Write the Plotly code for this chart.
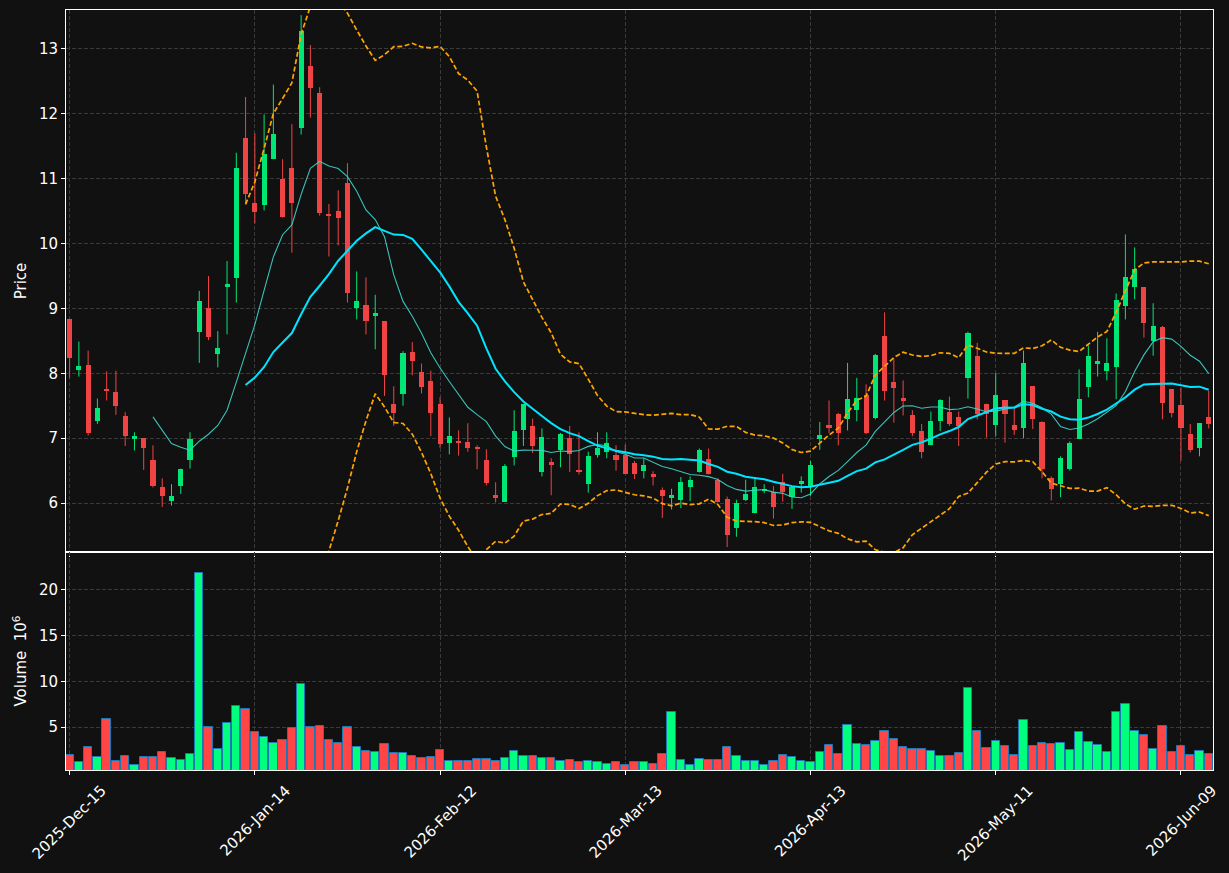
import pandas as pd
import plotly.graph_objects as go
from plotly.subplots import make_subplots

tick_labels = ["2025-Dec-15", "2026-Jan-14", "2026-Feb-12", "2026-Mar-13",
               "2026-Apr-13", "2026-May-11", "2026-Jun-09"]
tick_every = 20

open_ = [8.84, 8.05, 8.13, 7.26, 7.76, 7.71, 7.34, 6.99, 7.00, 6.66,
         6.25, 6.03, 6.27, 6.66, 8.63, 9.01, 8.29, 9.33, 9.47, 11.63,
         10.63, 10.60, 11.30, 11.00, 11.17, 11.78, 12.74, 12.32, 10.45, 10.50,
         10.93, 9.00, 9.05, 8.89, 8.80, 7.53, 7.68, 8.33, 8.02, 7.88,
         7.53, 6.92, 6.96, 6.94, 6.85, 6.66, 6.12, 6.02, 6.71, 7.13,
         7.19, 6.48, 6.61, 6.81, 7.00, 6.50, 6.29, 6.74, 6.79, 6.74,
         6.74, 6.61, 6.50, 6.43, 6.20, 6.08, 6.04, 6.24, 6.48, 6.68,
         6.36, 6.06, 5.61, 6.04, 5.84, 6.19, 6.17, 6.33, 6.09, 6.29,
         6.27, 6.99, 7.20, 7.37, 7.29, 7.44, 7.66, 7.31, 8.57, 7.87,
         7.62, 7.36, 7.11, 6.89, 7.27, 7.41, 7.33, 7.93, 8.27, 7.52,
         7.20, 7.59, 7.20, 7.15, 7.80, 7.25, 6.38, 6.29, 6.53, 6.99,
         7.79, 8.15, 8.03, 8.09, 9.03, 9.33, 9.33, 8.49, 8.71, 7.76,
         7.51, 7.06, 6.85, 7.32]
high = [8.84, 8.49, 8.35, 7.61, 8.03, 8.04, 7.40, 7.09, 7.00, 6.89,
        6.38, 6.29, 6.53, 7.09, 9.27, 9.50, 8.65, 9.73, 11.40, 12.26,
        11.70, 11.99, 12.45, 11.30, 11.84, 13.52, 13.06, 12.41, 10.61, 10.82,
        11.24, 9.57, 9.48, 9.21, 8.80, 7.80, 8.34, 8.48, 8.15, 8.04,
        7.63, 7.32, 7.12, 7.23, 6.89, 6.83, 6.32, 6.60, 7.43, 7.53,
        7.30, 7.15, 6.69, 7.08, 7.19, 7.09, 6.79, 7.09, 7.09, 6.89,
        6.90, 6.65, 6.69, 6.49, 6.24, 6.22, 6.40, 6.41, 6.84, 6.84,
        6.38, 6.10, 6.05, 6.36, 6.38, 6.29, 6.26, 6.45, 6.26, 6.41,
        6.65, 7.25, 7.58, 7.39, 8.16, 7.93, 7.83, 8.30, 8.94, 8.23,
        7.89, 7.43, 7.22, 7.41, 7.60, 7.64, 7.41, 8.64, 8.47, 7.53,
        8.00, 7.59, 7.45, 8.35, 7.80, 7.26, 6.41, 6.72, 6.95, 8.06,
        8.43, 8.64, 8.54, 9.23, 10.14, 9.94, 9.33, 9.08, 8.73, 7.76,
        7.78, 7.22, 7.23, 7.73]
low = [7.93, 7.95, 7.04, 7.22, 7.58, 7.36, 6.88, 6.81, 6.51, 6.24,
       5.94, 5.96, 6.14, 6.53, 8.16, 8.51, 8.09, 8.60, 9.09, 10.61,
       10.31, 10.51, 11.30, 10.40, 9.86, 11.68, 11.94, 10.43, 9.80, 9.97,
       9.09, 8.83, 8.60, 8.37, 7.65, 7.19, 7.50, 7.97, 7.69, 7.03,
       6.85, 6.75, 6.73, 6.79, 6.52, 6.27, 6.01, 6.02, 6.58, 6.88,
       6.77, 6.41, 6.12, 6.55, 6.48, 6.44, 6.16, 6.70, 6.69, 6.50,
       6.45, 6.37, 6.38, 6.27, 5.77, 5.90, 5.92, 6.03, 6.47, 6.44,
       6.01, 5.32, 5.48, 6.03, 5.84, 6.15, 5.76, 6.02, 5.91, 6.16,
       6.11, 6.82, 7.08, 6.89, 7.12, 7.26, 7.06, 7.29, 7.58, 7.24,
       7.35, 7.03, 6.69, 6.89, 7.11, 7.19, 6.88, 7.61, 7.29, 7.01,
       7.03, 6.93, 7.05, 7.00, 7.14, 6.38, 6.04, 6.09, 6.50, 6.99,
       7.63, 7.95, 7.89, 7.60, 8.83, 9.14, 8.55, 8.27, 7.29, 7.32,
       6.65, 6.78, 6.72, 7.15]
close = [8.23, 8.11, 7.08, 7.46, 7.73, 7.49, 7.03, 7.03, 6.85, 6.27,
         6.11, 6.11, 6.53, 6.99, 9.12, 8.56, 8.39, 9.38, 11.17, 10.77,
         10.49, 11.38, 11.69, 10.41, 10.63, 13.28, 12.39, 10.47, 10.43, 10.40,
         9.24, 9.12, 8.81, 8.93, 7.98, 7.39, 8.31, 8.19, 7.79, 7.39,
         6.91, 7.03, 6.92, 6.85, 6.84, 6.31, 6.09, 6.57, 7.11, 7.53,
         6.88, 7.02, 6.60, 7.07, 6.75, 6.48, 6.72, 6.85, 6.92, 6.66,
         6.45, 6.45, 6.59, 6.41, 6.11, 6.12, 6.32, 6.36, 6.82, 6.44,
         6.01, 5.51, 6.00, 6.14, 6.25, 6.21, 5.94, 6.17, 6.25, 6.34,
         6.59, 7.05, 7.15, 7.08, 7.60, 7.62, 7.08, 8.28, 7.73, 7.78,
         7.58, 7.08, 6.79, 7.27, 7.59, 7.22, 7.18, 8.62, 7.37, 7.38,
         7.66, 7.38, 7.12, 8.16, 7.29, 6.52, 6.21, 6.70, 6.92, 7.61,
         8.27, 8.19, 8.16, 9.13, 9.48, 9.61, 8.77, 8.73, 7.54, 7.39,
         7.15, 6.82, 7.23, 7.22]
volume_m = [1.93, 1.17, 2.81, 1.72, 5.88, 1.28, 1.83, 0.84, 1.72, 1.72,
            2.26, 1.61, 1.39, 2.04, 21.86, 5.00, 2.59, 5.44, 7.30, 6.97,
            4.45, 3.91, 3.25, 3.58, 4.89, 9.71, 5.00, 5.11, 3.58, 3.25,
            5.00, 2.81, 2.37, 2.26, 3.14, 2.15, 2.15, 1.83, 1.61, 1.72,
            2.48, 1.28, 1.28, 1.28, 1.50, 1.50, 1.28, 1.61, 2.37, 1.83,
            1.83, 1.61, 1.61, 1.28, 1.39, 1.17, 1.28, 1.17, 0.95, 1.17,
            0.84, 1.17, 1.17, 0.95, 2.04, 6.64, 1.39, 0.84, 1.50, 1.39,
            1.39, 2.81, 1.83, 1.28, 1.28, 0.84, 1.28, 1.93, 1.72, 1.28,
            1.17, 2.26, 3.03, 2.04, 5.22, 3.14, 3.03, 3.47, 4.56, 3.69,
            2.81, 2.59, 2.59, 2.37, 1.83, 1.83, 2.15, 9.27, 4.56, 2.70,
            3.47, 2.92, 1.93, 5.77, 2.92, 3.25, 3.14, 3.25, 2.48, 4.45,
            3.36, 3.03, 2.26, 6.64, 7.52, 4.56, 4.12, 2.59, 5.11, 2.26,
            2.92, 1.93, 2.37, 2.04]

BG = "#111111"
GRID = "#3a3a3a"
UP_C, DN_C = "#00e676", "#f04444"
VUP_C, VDN_C = "#00ff7f", "#ff4545"
FONT = dict(color="white", size=15, family="DejaVu Sans")

n = len(close)
xs = list(range(n))
up = [c >= o for o, c in zip(open_, close)]

s = pd.Series(close)
ma10 = s.rolling(10).mean()
ma20 = s.rolling(20).mean()
sd20 = s.rolling(20).std(ddof=0)
upper = ma20 + 2 * sd20
lower = ma20 - 2 * sd20

fig = make_subplots(rows=2, cols=1, shared_xaxes=True, vertical_spacing=0,
                    row_heights=[542, 218])

# wicks
for flag, col in [(True, UP_C), (False, DN_C)]:
    wx, wy = [], []
    for i in xs:
        if up[i] == flag:
            wx += [i, i, None]
            wy += [low[i], high[i], None]
    fig.add_trace(go.Scatter(x=wx, y=wy, mode="lines", line=dict(color=col, width=1),
                             hoverinfo="skip", showlegend=False), row=1, col=1)

# bodies
body_base = [min(o, c) for o, c in zip(open_, close)]
body_h = [max(abs(c - o), 0.03) for o, c in zip(open_, close)]
fig.add_trace(go.Bar(x=xs, y=body_h, base=body_base, width=0.55,
                     marker=dict(color=[UP_C if u else DN_C for u in up], line=dict(width=0)),
                     showlegend=False), row=1, col=1)

# moving averages and bands
fig.add_trace(go.Scatter(x=xs, y=ma10, mode="lines", line=dict(color="#3fd6cc", width=1.1),
                         opacity=0.9, showlegend=False), row=1, col=1)
fig.add_trace(go.Scatter(x=xs, y=ma20, mode="lines", line=dict(color="#00e5ff", width=2),
                         showlegend=False), row=1, col=1)
for band in (upper, lower):
    fig.add_trace(go.Scatter(x=xs, y=band, mode="lines",
                             line=dict(color="#ffa500", width=1.7, dash="5px,2.5px"),
                             showlegend=False), row=1, col=1)

# volume
fig.add_trace(go.Bar(x=xs, y=volume_m, width=0.9,
                     marker=dict(color=[VUP_C if u else VDN_C for u in up],
                                 line=dict(color="#1f77b4", width=1)),
                     showlegend=False), row=2, col=1)

axis_common = dict(showline=True, linecolor="white", linewidth=1, mirror=True,
                   showgrid=True, gridcolor=GRID, griddash="4px,2px", gridwidth=1,
                   zeroline=False, ticks="outside", tickcolor="white", ticklen=4,
                   automargin=False, tickfont=FONT)

tick_pos = [k * tick_every for k in range(len(tick_labels))]
fig.update_xaxes(**axis_common, range=[-0.39, 123.46],
                 tickmode="array", tickvals=tick_pos, ticktext=tick_labels,
                 showticklabels=False)

# rotated date labels centred under their ticks (matplotlib style)
for pos, lab in zip(tick_pos, tick_labels):
    fig.add_annotation(x=pos, y=0, xref="x2", yref="paper", text=lab, textangle=-45,
                       showarrow=False, xanchor="center", yanchor="top", yshift=-9,
                       font=FONT)

fig.update_yaxes(**axis_common)
fig.update_yaxes(range=[5.245, 13.6], dtick=1, tick0=0, row=1, col=1,
                 title=dict(text="Price", font=FONT, standoff=8))
fig.update_yaxes(range=[0.33, 24.1], tickvals=[5, 10, 15, 20], row=2, col=1,
                 title=dict(text="Volume  10<sup>6</sup>", font=FONT, standoff=8))

fig.update_layout(width=1229, height=873, margin=dict(l=66, r=16, t=10, b=103),
                  paper_bgcolor=BG, plot_bgcolor=BG, barmode="overlay",
                  showlegend=False, bargap=0,
                  font=dict(family="DejaVu Sans", color="white"))

fig.write_html("out.html")
